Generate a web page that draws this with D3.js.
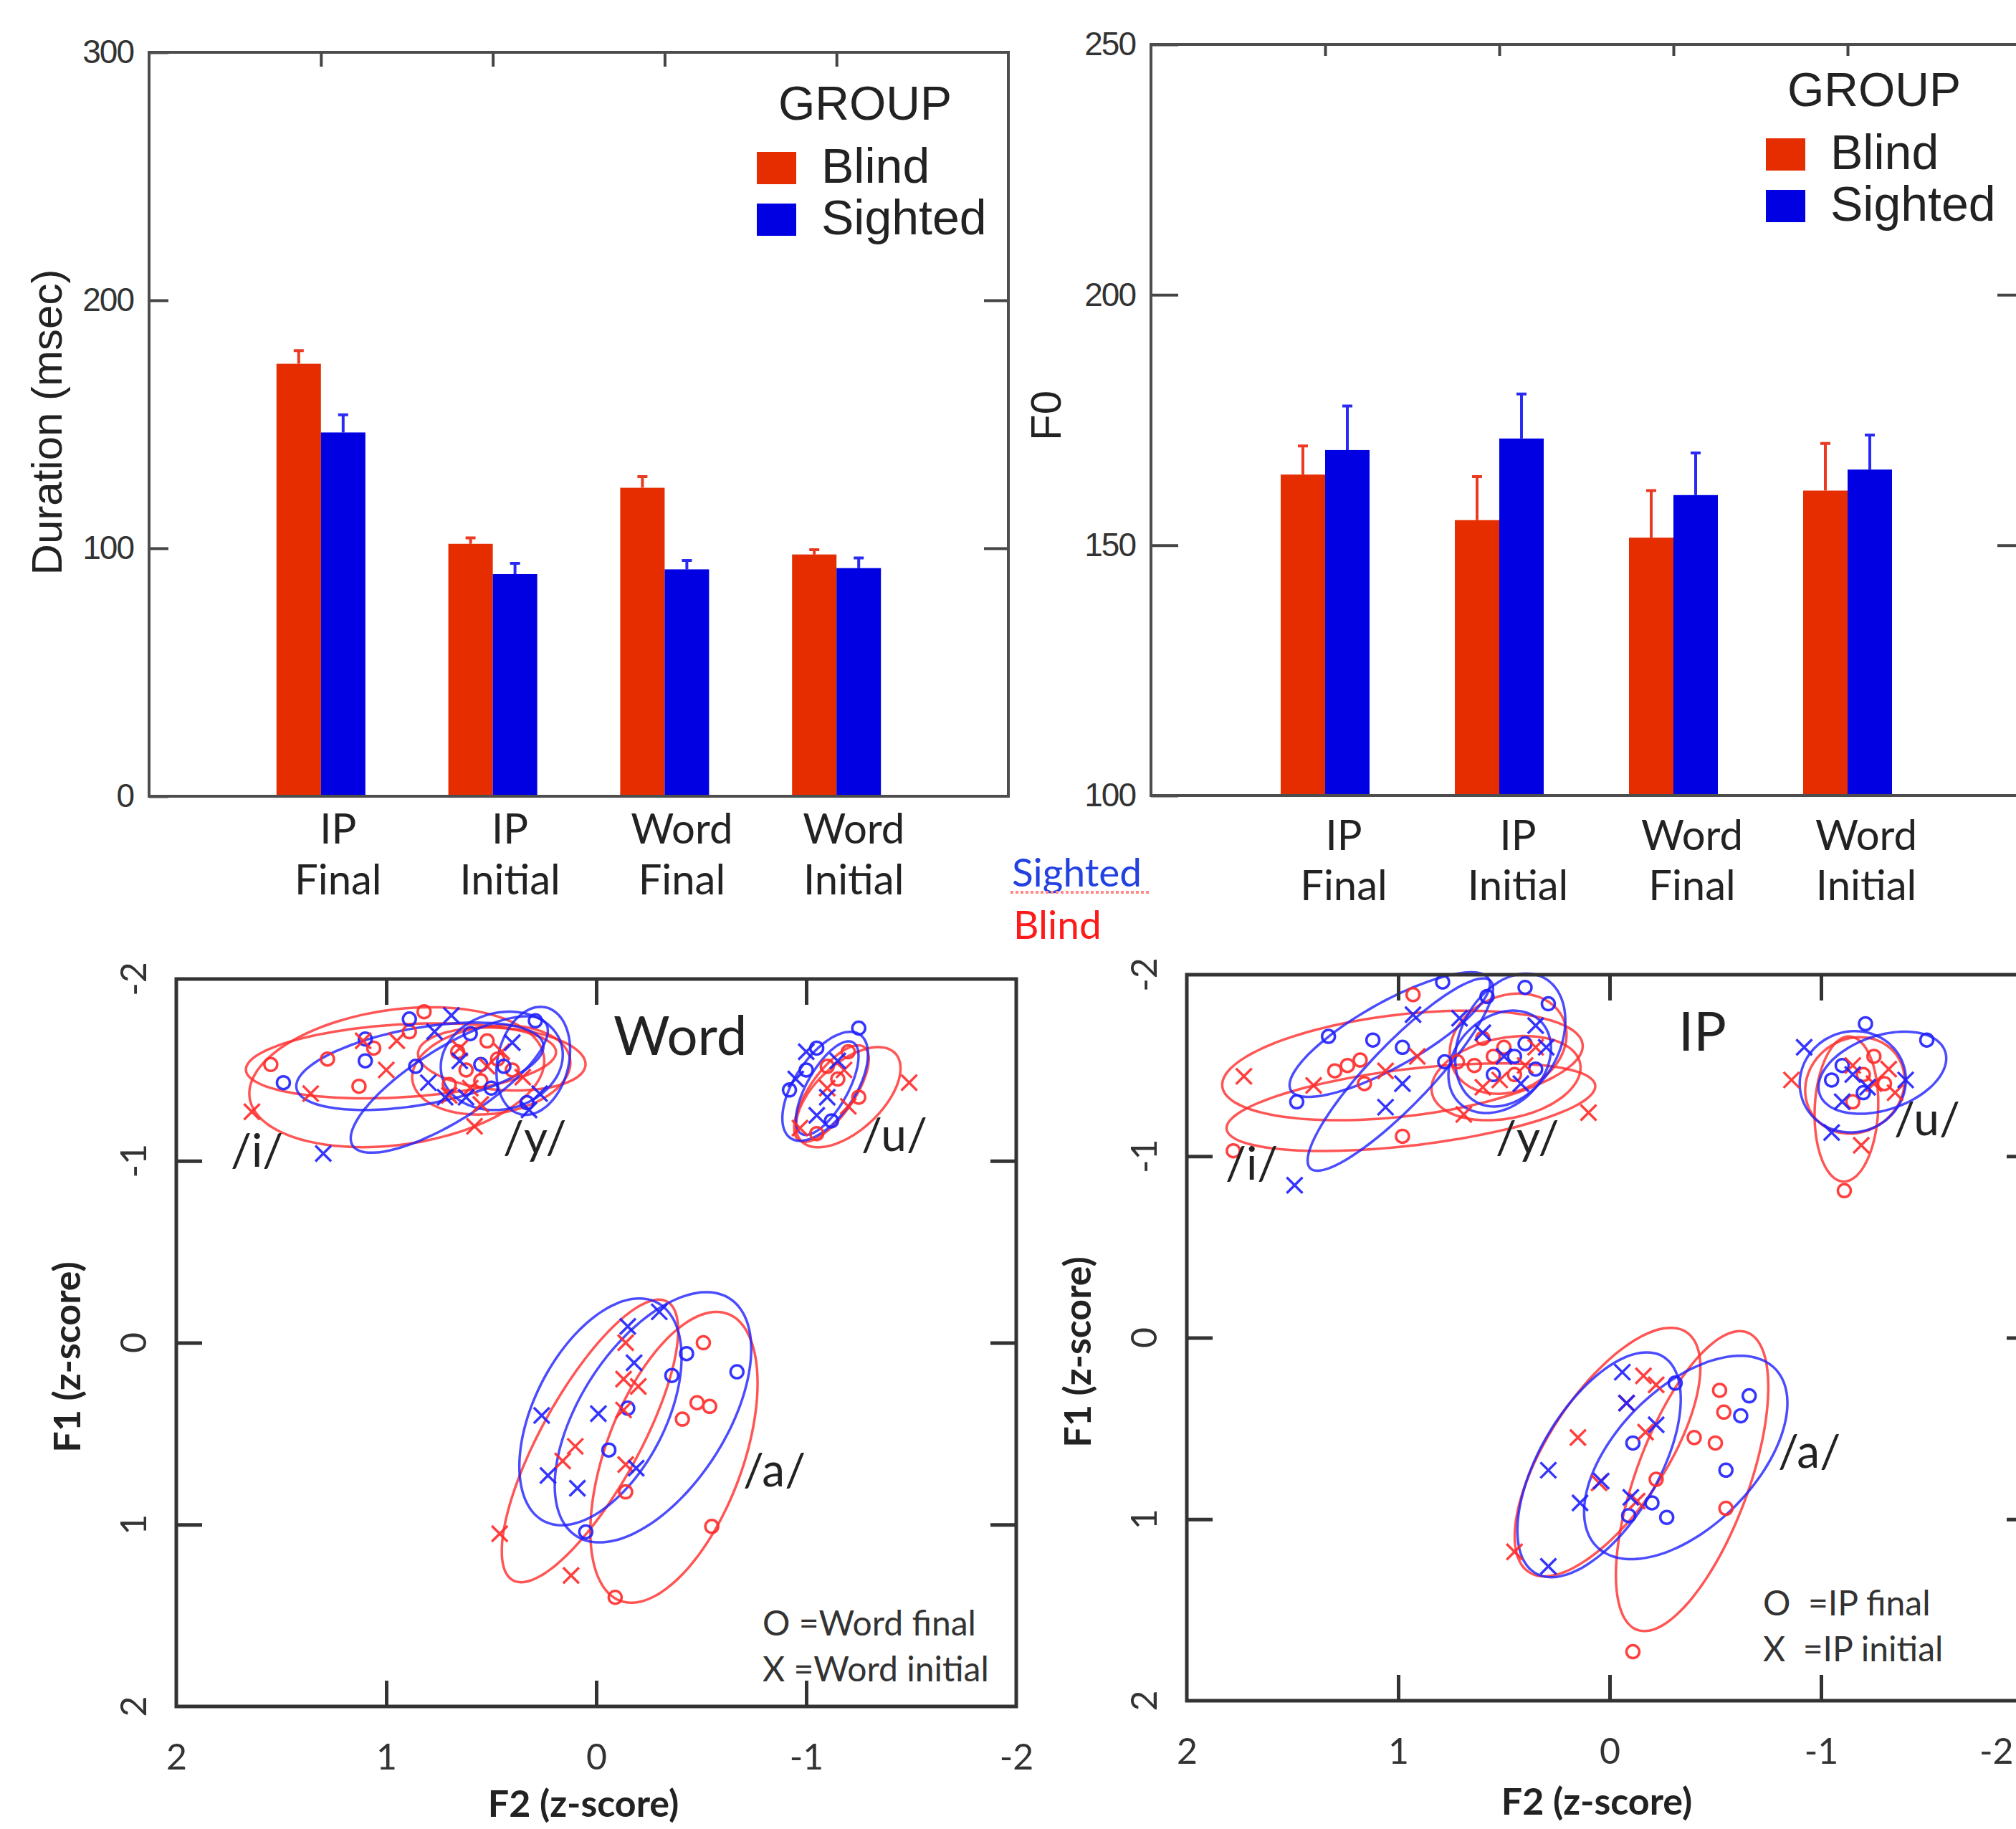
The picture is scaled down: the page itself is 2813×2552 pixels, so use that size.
<!DOCTYPE html>
<html>
<head>
<meta charset="utf-8">
<script src="https://cdn.jsdelivr.net/npm/d3@7"></script>
<style>
  body { margin: 0; background: #fff; }
  svg { display: block; }
</style>
</head>
<body>
<div id="chart"></div>
<script>
// ---- bar chart data ----
const categories = [["IP", "Final"], ["IP", "Initial"], ["Word", "Final"], ["Word", "Initial"]];
const durationBlind = [174.4, 101.8, 124.4, 97.5];
const durationBlindSE = [5.3, 2.4, 4.5, 1.9];
const durationSighted = [146.7, 89.6, 91.5, 92.0];
const durationSightedSE = [7.1, 4.3, 3.6, 4.1];
const f0Blind = [164.1, 155.0, 151.5, 160.9];
const f0BlindSE = [5.7, 8.7, 9.4, 9.4];
const f0Sighted = [169.0, 171.3, 160.0, 165.1];
const f0SightedSE = [8.8, 8.9, 8.4, 6.9];
const durationTicks = [0, 100, 200, 300];
const f0Ticks = [100, 150, 200, 250];

// ---- vowel space data: [F2, F1] z-scores ----
const wordBlindFinal = [
  [1.55,-1.53],[1.28,-1.56],[1.13,-1.41],[1.06,-1.62],[0.89,-1.71],[0.82,-1.82],
  [0.62,-1.50],[0.55,-1.44],[0.47,-1.56],[0.40,-1.50],[0.66,-1.60],[0.52,-1.66],[0.70,-1.42],
  [-1.15,-1.45],[-1.20,-1.60],[-1.05,-1.15],[-1.25,-1.35],[-1.10,-1.52],
  [-0.51,0.00],[-0.48,0.33],[-0.54,0.35],[-0.41,0.42],[-0.14,0.82],[-0.55,1.01],[-0.09,1.40]
];
const wordBlindInitial = [
  [1.64,-1.27],[1.36,-1.37],[1.11,-1.66],[0.95,-1.66],[0.58,-1.19],[1.00,-1.50],
  [0.60,-1.40],[0.70,-1.36],[0.45,-1.60],[0.35,-1.46],[0.55,-1.31],[0.65,-1.62],[0.52,-1.52],
  [-1.49,-1.43],[-1.10,-1.40],[-1.20,-1.30],[-0.97,-1.18],[-1.18,-1.50],
  [-0.14,0.00],[-0.13,0.20],[-0.20,0.24],[-0.13,0.37],[0.10,0.57],[0.16,0.65],[0.46,1.05],[0.12,1.28],[-0.14,0.67]
];
const wordSightedFinal = [
  [1.49,-1.43],[1.10,-1.67],[1.10,-1.55],[0.89,-1.78],[0.86,-1.52],
  [0.29,-1.77],[0.33,-1.32],[0.44,-1.52],[0.55,-1.53],[0.60,-1.70],[0.50,-1.40],
  [-1.25,-1.73],[-0.92,-1.39],[-1.05,-1.62],[-1.12,-1.22],[-1.00,-1.50],
  [-0.06,0.59],[-0.43,0.06],[-0.36,0.18],[-0.67,0.16],[0.05,1.04],[-0.15,0.36]
];
const wordSightedInitial = [
  [1.30,-1.04],[0.77,-1.71],[0.69,-1.80],[0.80,-1.43],[0.72,-1.35],
  [0.27,-1.37],[0.40,-1.65],[0.62,-1.35],[0.32,-1.28],[0.65,-1.55],
  [-1.00,-1.60],[-0.95,-1.45],[-1.10,-1.35],[-1.15,-1.55],[-1.05,-1.25],
  [0.26,0.40],[-0.01,0.39],[0.23,0.73],[0.09,0.80],[-0.18,0.11],[-0.15,-0.09],[-0.30,-0.17],[-0.19,0.69]
];
const ipBlindFinal = [
  [0.93,-1.89],[1.30,-1.47],[1.24,-1.50],[1.18,-1.53],[1.16,-1.40],[0.98,-1.11],[1.78,-1.03],
  [0.64,-1.50],[0.55,-1.55],[0.45,-1.45],[0.60,-1.65],[0.50,-1.60],[0.72,-1.52],
  [-1.11,-0.81],[-1.20,-1.45],[-1.30,-1.40],[-1.15,-1.30],[-1.25,-1.55],
  [-0.52,0.29],[-0.54,0.41],[-0.40,0.55],[-0.50,0.58],[-0.11,1.73],[-0.55,0.94],[-0.22,0.78]
];
const ipBlindInitial = [
  [1.40,-1.39],[1.73,-1.44],[0.91,-1.55],[1.06,-1.47],[0.69,-1.23],
  [0.10,-1.24],[0.52,-1.42],[0.40,-1.50],[0.60,-1.38],[0.35,-1.60],
  [-0.86,-1.42],[-1.19,-1.06],[-1.25,-1.40],[-1.35,-1.35],[-1.15,-1.50],[-1.32,-1.48],
  [-0.16,0.21],[-0.22,0.26],[-0.08,0.36],[0.15,0.55],[-0.17,0.52],[0.05,0.80],[-0.13,0.90],[0.45,1.18]
];
const ipSightedFinal = [
  [1.33,-1.66],[1.48,-1.30],[0.79,-1.96],[1.12,-1.64],[0.98,-1.60],[0.78,-1.52],
  [0.58,-1.88],[0.40,-1.93],[0.29,-1.84],[0.45,-1.55],[0.35,-1.48],[0.55,-1.45],[0.40,-1.62],
  [-1.21,-1.73],[-1.50,-1.64],[-1.10,-1.50],[-1.20,-1.35],[-1.05,-1.42],
  [-0.31,0.25],[-0.11,0.58],[-0.20,0.91],[-0.09,0.98],[-0.27,0.99],[-0.66,0.32],[-0.62,0.43],[-0.55,0.73]
];
const ipSightedInitial = [
  [1.49,-0.84],[0.93,-1.78],[1.06,-1.27],[0.71,-1.76],[0.98,-1.40],
  [0.35,-1.72],[0.50,-1.55],[0.42,-1.40],[0.30,-1.60],[0.60,-1.68],
  [-0.92,-1.60],[-1.05,-1.13],[-1.40,-1.42],[-1.15,-1.45],[-1.22,-1.38],[-1.10,-1.30],
  [-0.06,0.19],[-0.08,0.36],[-0.22,0.48],[0.29,0.73],[0.04,0.79],[0.14,0.91],[-0.10,0.88],[0.29,1.26]
];

// ellipses: [centre F2, centre F1, semi-axis a, semi-axis b, angle deg]
const wordBlindEllipses = [
  [0.95,-1.46,0.71,0.37,10],[0.93,-1.55,0.74,0.20,4],
  [0.50,-1.50,0.38,0.24,10],[0.45,-1.56,0.40,0.17,-5],
  [-1.20,-1.35,0.33,0.17,50],[-1.12,-1.37,0.30,0.11,60],
  [0.03,0.54,0.85,0.24,65],[-0.37,0.63,0.83,0.33,73]
];
const wordSightedEllipses = [
  [0.84,-1.52,0.60,0.21,12],[0.70,-1.42,0.57,0.19,37],
  [0.45,-1.55,0.30,0.26,30],[0.30,-1.55,0.30,0.17,80],
  [-1.09,-1.41,0.33,0.15,62],[-1.10,-1.40,0.28,0.10,65],
  [-0.02,0.38,0.66,0.32,68],[-0.27,0.41,0.75,0.36,63]
];
const ipBlindEllipses = [
  [0.98,-1.50,0.86,0.28,8],[0.94,-1.27,0.88,0.21,8],
  [0.49,-1.43,0.36,0.22,15],[0.48,-1.62,0.30,0.25,45],
  [-1.12,-1.26,0.40,0.15,88],[-1.16,-1.39,0.27,0.23,70],
  [0.01,0.63,0.76,0.29,62],[-0.39,0.79,0.86,0.27,73]
];
const ipSightedEllipses = [
  [1.04,-1.67,0.56,0.17,34],[0.99,-1.45,0.67,0.155,51],
  [0.47,-1.64,0.38,0.24,70],[0.52,-1.52,0.30,0.22,60],
  [-1.15,-1.41,0.28,0.25,80],[-1.29,-1.46,0.32,0.20,25],
  [0.05,0.70,0.67,0.29,65],[-0.36,0.66,0.65,0.35,53]
];
const zTicks = [2, 1, 0, -1, -2];

const width = 2813, height = 2552;
const barFont = "'Liberation Sans', Arial, sans-serif";
const lblFont = "Lato, 'Open Sans', sans-serif";
const RED = "#e52d00", BLUE = "#0000e2";
const SRED = "#ff2a2a", SBLUE = "#1f1fff";

const svg = d3.select("#chart")
  .append("svg")
  .attr("width", width)
  .attr("height", height)
  .attr("viewBox", [0, 0, width, height]);

function barChart(o) {
  const g = svg.append("g");
  const x = d3.scaleLinear().domain([0, categories.length + 1]).range([o.left, o.right]);
  const y = d3.scaleLinear().domain(o.domain).range([o.bottom, o.top]);
  const bw = 62;
  const series = [
    {vals: o.blind, se: o.blindSE, color: RED, err: "#ea3a22", off: -bw},
    {vals: o.sighted, se: o.sightedSE, color: BLUE, err: "#2a2af2", off: 0}
  ];
  series.forEach(s => {
    g.append("g").selectAll("path")
      .data(s.vals)
      .join("path")
      .attr("stroke", s.err)
      .attr("stroke-width", 4)
      .attr("fill", "none")
      .attr("d", (d, i) => {
        const cx = x(i + 1) + s.off + bw / 2, y1 = y(d + s.se[i]);
        return `M${cx},${y(d)}V${y1}M${cx - 7},${y1}H${cx + 7}`;
      });
    g.append("g").selectAll("rect")
      .data(s.vals)
      .join("rect")
      .attr("x", (d, i) => x(i + 1) + s.off)
      .attr("width", bw)
      .attr("y", d => y(d))
      .attr("height", d => o.bottom - y(d))
      .attr("fill", s.color);
  });

  // axes with inward ticks
  const left = g.append("g").attr("transform", `translate(${o.left},0)`)
    .call(d3.axisLeft(y).tickValues(o.ticks).tickSize(-o.tickL).tickPadding(22).tickFormat(d3.format("d")));
  const right = g.append("g").attr("transform", `translate(${o.right},0)`)
    .call(d3.axisRight(y).tickValues(o.ticks.slice(1, -1)).tickSize(-34).tickFormat(""));
  const top = g.append("g").attr("transform", `translate(0,${o.top})`)
    .call(d3.axisTop(x).tickValues(d3.range(1, categories.length + 1)).tickSize(-o.tickT).tickFormat(""));
  [left, right, top].forEach(a => {
    a.select(".domain").remove();
    a.selectAll("line").attr("stroke", "#444").attr("stroke-width", 4);
  });
  left.selectAll("text")
    .attr("font-family", barFont)
    .attr("font-size", 46)
    .attr("letter-spacing", -2)
    .attr("fill", "#333");

  g.append("rect")
    .attr("x", o.left).attr("y", o.top)
    .attr("width", o.right - o.left).attr("height", o.bottom - o.top)
    .attr("fill", "none").attr("stroke", "#4d4d4d").attr("stroke-width", 4);

  // category labels
  const cat = g.append("g").selectAll("text")
    .data(categories)
    .join("text")
    .attr("font-family", lblFont)
    .attr("font-size", 58)
    .attr("fill", "#222")
    .attr("text-anchor", "middle");
  cat.append("tspan").attr("x", (d, i) => x(i + 1) + o.labelDx).attr("y", o.bottom + o.line1).text(d => d[0]);
  cat.append("tspan").attr("x", (d, i) => x(i + 1) + o.labelDx).attr("y", o.bottom + o.line2).text(d => d[1]);

  // y title
  g.append("text")
    .attr("transform", `translate(${o.titleX},${o.titleY}) rotate(-90)`)
    .attr("text-anchor", "middle")
    .attr("font-family", barFont)
    .attr("font-size", 60)
    .attr("fill", "#222")
    .text(o.title);

  // legend
  const lg = g.append("g").attr("font-family", barFont).attr("fill", "#222");
  lg.append("text").attr("x", o.legX + 30).attr("y", o.legY).attr("font-size", 66).text("GROUP");
  [["Blind", RED], ["Sighted", BLUE]].forEach(([name, c], k) => {
    lg.append("rect").attr("x", o.legX).attr("y", o.legY + 45 + k * 72)
      .attr("width", 55).attr("height", 45).attr("fill", c);
    lg.append("text").attr("x", o.legX + 90).attr("y", o.legY + 88 + k * 72)
      .attr("font-size", 68).text(name);
  });
}

barChart({
  left: 208, right: 1407, top: 73, bottom: 1111, domain: [0, 300], ticks: durationTicks,
  blind: durationBlind, blindSE: durationBlindSE, sighted: durationSighted, sightedSE: durationSightedSE,
  tickL: 27, tickT: 20, labelDx: 24, line1: 66, line2: 137,
  title: "Duration (msec)", titleX: 86, titleY: 589, legX: 1056, legY: 167
});
barChart({
  left: 1606, right: 2821, top: 62, bottom: 1110, domain: [100, 250], ticks: f0Ticks,
  blind: f0Blind, blindSE: f0BlindSE, sighted: f0Sighted, sightedSE: f0SightedSE,
  tickL: 38, tickT: 16, labelDx: 26, line1: 76, line2: 146,
  title: "F0", titleX: 1480, titleY: 580, legX: 2464, legY: 148
});

// colour key between panels
svg.append("text").attr("x", 1412).attr("y", 1237)
  .attr("font-family", lblFont).attr("font-size", 55).attr("fill", "#2241e0").text("Sighted");
svg.append("line").attr("x1", 1410).attr("x2", 1605).attr("y1", 1245).attr("y2", 1245)
  .attr("stroke", "#ff8a8a").attr("stroke-width", 4).attr("stroke-dasharray", "4,3");
svg.append("text").attr("x", 1414).attr("y", 1310)
  .attr("font-family", lblFont).attr("font-size", 55).attr("fill", "#ff1a1a").text("Blind");

function vowelPlot(o) {
  const g = svg.append("g");
  const x = d3.scaleLinear().domain([2, -2]).range([o.left, o.right]);
  const y = d3.scaleLinear().domain([-2, 2]).range([o.top, o.bottom]);

  const ell = (e) => {
    const [cx, cy, a, b, deg] = e;
    const t = deg * Math.PI / 180;
    const pts = d3.range(0, 90).map(k => {
      const u = 2 * Math.PI * k / 90;
      const dx = a * Math.cos(u), dy = b * Math.sin(u);
      return [x(cx + dx * Math.cos(t) - dy * Math.sin(t)), y(cy + dx * Math.sin(t) + dy * Math.cos(t))];
    });
    return d3.line().curve(d3.curveCardinalClosed)(pts);
  };

  [[o.blindEll, SRED], [o.sightedEll, SBLUE]].forEach(([data, c]) => {
    g.append("g").selectAll("path")
      .data(data)
      .join("path")
      .attr("d", ell)
      .attr("fill", "none")
      .attr("stroke", c)
      .attr("stroke-width", 3.5)
      .attr("opacity", 0.8);
  });

  const marks = [
    [o.blindFinal, SRED, "o"], [o.sightedFinal, SBLUE, "o"],
    [o.blindInitial, SRED, "x"], [o.sightedInitial, SBLUE, "x"]
  ];
  marks.forEach(([data, c, m]) => {
    const sel = g.append("g").attr("stroke", c).attr("stroke-width", 3.5).attr("fill", "none").attr("opacity", 0.9);
    if (m === "o") {
      sel.selectAll("circle").data(data).join("circle")
        .attr("cx", d => x(d[0])).attr("cy", d => y(d[1])).attr("r", 9);
    } else {
      sel.selectAll("path").data(data).join("path")
        .attr("d", d => {
          const px = x(d[0]), py = y(d[1]), s = 11;
          return `M${px - s},${py - s}L${px + s},${py + s}M${px - s},${py + s}L${px + s},${py - s}`;
        });
    }
  });

  // frame and inward ticks
  const inner = [1, 0, -1];
  const axes = [
    g.append("g").attr("transform", `translate(0,${o.bottom})`).call(d3.axisBottom(x).tickValues(zTicks).tickSize(-36).tickPadding(52).tickFormat(d3.format("d"))),
    g.append("g").attr("transform", `translate(0,${o.top})`).call(d3.axisTop(x).tickValues(inner).tickSize(-36).tickFormat("")),
    g.append("g").attr("transform", `translate(${o.left},0)`).call(d3.axisLeft(y).tickValues(inner).tickSize(-36).tickFormat("")),
    g.append("g").attr("transform", `translate(${o.right},0)`).call(d3.axisRight(y).tickValues(inner).tickSize(-36).tickFormat(""))
  ];
  axes.forEach(a => {
    a.select(".domain").remove();
    a.selectAll("line").attr("stroke", "#333").attr("stroke-width", 5);
  });
  axes[0].selectAll("line").filter(d => Math.abs(d) === 2).remove();
  axes[0].selectAll("text")
    .attr("font-family", lblFont).attr("font-size", 50).attr("fill", "#333")
    .text(d => d3.format("d")(d).replace("−", "-"));
  // keep a label that would fall past the right edge inside the page
  axes[0].selectAll(".tick").filter(d => x(d) > width - 30).select("text")
    .attr("text-anchor", "end")
    .attr("x", d => width - 4 - x(d));

  g.append("rect")
    .attr("x", o.left).attr("y", o.top)
    .attr("width", o.right - o.left).attr("height", o.bottom - o.top)
    .attr("fill", "none").attr("stroke", "#333").attr("stroke-width", 5);

  // rotated y tick labels
  g.append("g").selectAll("text")
    .data(zTicks.slice().reverse())
    .join("text")
    .attr("transform", d => `translate(${o.left - 42},${y(d)}) rotate(-90)`)
    .attr("text-anchor", "middle")
    .attr("font-family", lblFont).attr("font-size", 50).attr("fill", "#333")
    .text(d => String(d));

  g.append("text")
    .attr("transform", `translate(${o.left - 134},${(o.top + o.bottom) / 2 + 20}) rotate(-90)`)
    .attr("text-anchor", "middle")
    .attr("font-family", lblFont).attr("font-weight", 700).attr("font-size", 52).attr("fill", "#222")
    .text("F1 (z-score)");
  g.append("text")
    .attr("x", x(0) - 18).attr("y", o.axisTitleY)
    .attr("text-anchor", "middle")
    .attr("font-family", lblFont).attr("font-weight", 700).attr("font-size", 52).attr("fill", "#222")
    .text("F2 (z-score)");

  // titles, vowel labels, marker key
  g.append("text").attr("x", o.titleX).attr("y", o.top + 106)
    .attr("font-family", lblFont).attr("font-size", 76).attr("fill", "#222").text(o.title);
  g.append("g").selectAll("text")
    .data(o.vowels)
    .join("text")
    .attr("x", d => d[1]).attr("y", d => d[2])
    .attr("font-family", lblFont).attr("font-size", 64).attr("fill", "#222")
    .text(d => d[0]);
  g.append("g").selectAll("text")
    .data(o.key)
    .join("text")
    .attr("x", o.keyX).attr("y", (d, i) => o.keyY + i * 64)
    .attr("font-family", lblFont).attr("font-size", 48).attr("fill", "#333")
    .attr("xml:space", "preserve")
    .text(d => d);
}

vowelPlot({
  left: 246, right: 1418, top: 1366, bottom: 2381, title: "Word", titleX: 856, axisTitleY: 2535,
  blindFinal: wordBlindFinal, blindInitial: wordBlindInitial,
  sightedFinal: wordSightedFinal, sightedInitial: wordSightedInitial,
  blindEll: wordBlindEllipses, sightedEll: wordSightedEllipses,
  vowels: [["/i/", 322, 1628], ["/y/", 702, 1610], ["/u/", 1202, 1606], ["/a/", 1037, 2074]],
  key: ["O =Word final", "X =Word initial"], keyX: 1064, keyY: 2282
});
vowelPlot({
  left: 1656, right: 2836, top: 1360, bottom: 2373, title: "IP", titleX: 2342, axisTitleY: 2532,
  blindFinal: ipBlindFinal, blindInitial: ipBlindInitial,
  sightedFinal: ipSightedFinal, sightedInitial: ipSightedInitial,
  blindEll: ipBlindEllipses, sightedEll: ipSightedEllipses,
  vowels: [["/i/", 1710, 1646], ["/y/", 2087, 1610], ["/u/", 2643, 1584], ["/a/", 2481, 2048]],
  key: ["O  =IP final", "X  =IP initial"], keyX: 2460, keyY: 2254
});
</script>
</body>
</html>
